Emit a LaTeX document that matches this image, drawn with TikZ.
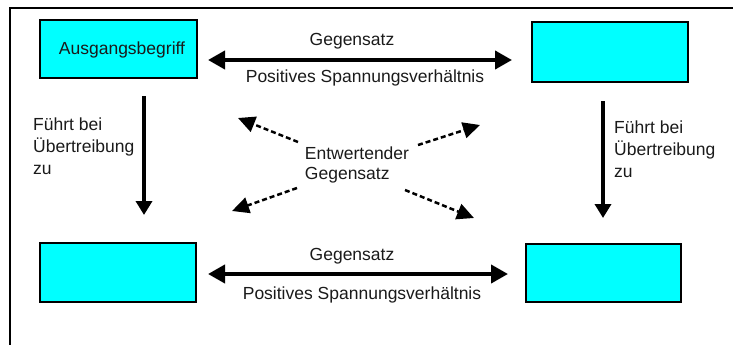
\documentclass[tikz,border=0pt]{standalone}
\usepackage{fontspec}
\setmainfont{Liberation Sans}
\usetikzlibrary{arrows.meta}
\definecolor{boxcyan}{HTML}{00FFFF}
\definecolor{inktext}{HTML}{1A1A1A}
\tikzset{
  conceptbox/.style={draw=black, line width=1.7pt, fill=boxcyan, inner sep=0pt, text=inktext, font=\fontsize{17.5}{21}\selectfont},
  lbl/.style={font=\fontsize{17.5}{22}\selectfont, inner sep=0pt, text=inktext},
  bigarrow/.style={line width=3.5pt, -{Triangle[length=14pt,width=16pt]}},
  bothway/.style={line width=4pt, {Triangle[length=17pt,width=18pt]}-{Triangle[length=17pt,width=18pt]}},
  dasharrow/.style={line width=2.5pt, dash pattern=on 5pt off 3pt, -{Triangle[length=17pt,width=16pt]}},
}
\begin{document}
\begin{tikzpicture}[x=1pt,y=-1pt]
\useasboundingbox (0,0) rectangle (733,345);
% outer frame (clipped at right and bottom)
\draw[line width=2pt] (10,346) -- (10,8) -- (734,8);

% boxes
\node[conceptbox, minimum width=157pt, minimum height=58pt] (tl) at (118.5,49) {};
\node[inner sep=0pt, font=\fontsize{17.5}{21}\selectfont, text=inktext] (tltext) at (122,50) {Ausgangsbegriff};
\node[conceptbox, minimum width=156pt, minimum height=60pt] (tr) at (610,52) {};
\node[conceptbox, minimum width=156pt, minimum height=59pt] (bl) at (118,272.5) {};
\node[conceptbox, minimum width=155pt, minimum height=58pt] (br) at (603.5,273) {};

% horizontal arrows
\coordinate (tA) at (208,60);
\coordinate (tB) at (512,60);
\draw[bothway] (tA) -- (tB);
\node[lbl] (tg) at (352,41) {Gegensatz};
\node[lbl] (tp) at (365,78) {Positives Spannungsverhältnis};

\coordinate (bA) at (208,274);
\coordinate (bB) at (508,274);
\draw[bothway] (bA) -- (bB);
\node[lbl] (bg) at (352,256) {Gegensatz};
\node[lbl] (bp) at (362,295) {Positives Spannungsverhältnis};

% vertical arrows
\coordinate (lA) at (144,96);
\coordinate (lB) at (144,215);
\draw[bigarrow] (lA) -- (lB);
\node[lbl, anchor=north west, align=left] (ltext) at (33,118) {Führt bei\\Übertreibung\\zu};

\coordinate (rA) at (603,101);
\coordinate (rB) at (603,218);
\draw[bigarrow] (rA) -- (rB);
\node[lbl, anchor=north west, align=left] (rtext) at (614,121) {Führt bei\\Übertreibung\\zu};

% center
\node[lbl, align=left, font=\fontsize{17.5}{20}\selectfont] (ctr) at (357,165) {Entwertender\\Gegensatz};
\coordinate (d1s) at (298,142); \coordinate (d1e) at (238,118);
\coordinate (d2s) at (418,145); \coordinate (d2e) at (480,125);
\coordinate (d3s) at (297,188); \coordinate (d3e) at (232,211);
\coordinate (d4s) at (405,190); \coordinate (d4e) at (474,218);
\draw[dasharrow] (d1s) -- (d1e);
\draw[dasharrow] (d2s) -- (d2e);
\draw[dasharrow] (d3s) -- (d3e);
\draw[dasharrow] (d4s) -- (d4e);
\end{tikzpicture}
\end{document}
